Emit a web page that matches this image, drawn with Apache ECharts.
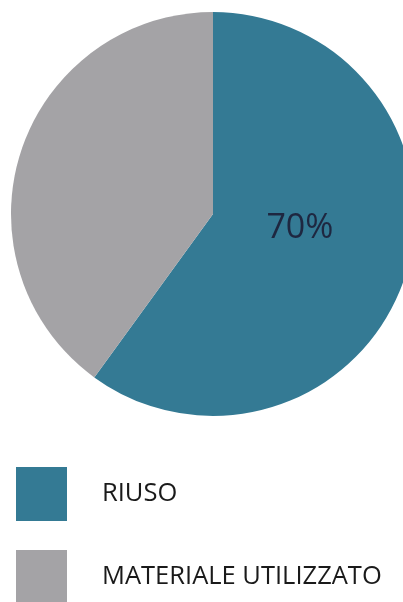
<!DOCTYPE html>
<html>
<head>
<meta charset="utf-8">
<script src="https://cdn.jsdelivr.net/npm/echarts@6/dist/echarts.min.js"></script>
<style>
html,body{margin:0;padding:0;background:#fff;}
#torta{width:403px;height:602px;}
</style>
</head>
<body>
<div id="torta"></div>
<script>
// dati del grafico
var categorie = ['RIUSO', 'MATERIALE UTILIZZATO'];
var valori = [60, 40];
var etichette = ['70%', ''];
var colori = ['#347a94', '#a4a3a6'];

var dati = [];
for (var i = 0; i < categorie.length; i++) {
    dati.push({
        name: categorie[i],
        value: valori[i],
        itemStyle: { color: colori[i] },
        label: { show: etichette[i] !== '', formatter: etichette[i] }
    });
}

var myChart = echarts.init(document.getElementById('torta'));
var option = {
    animation: false,
    legend: {
        orient: 'vertical',
        left: 16,
        top: 467,
        height: 200,
        padding: 0,
        itemWidth: 51,
        itemHeight: 54,
        itemGap: 29,
        icon: 'rect',
        data: categorie,
        textStyle: {
            fontFamily: 'Open Sans',
            fontSize: 25.5,
            color: '#1a1a1a',
            padding: [0, 0, 0, 30]
        }
    },
    series: [
        {
            type: 'pie',
            center: [213, 214],
            radius: 202,
            startAngle: 90,
            clockwise: true,
            silent: true,
            label: {
                position: 'inside',
                fontFamily: 'Open Sans',
                fontSize: 34,
                color: '#1e2740'
            },
            labelLine: { show: false },
            labelLayout: { dx: -12, dy: -18 },
            data: dati
        }
    ]
};
myChart.setOption(option, true);
</script>
</body>
</html>
